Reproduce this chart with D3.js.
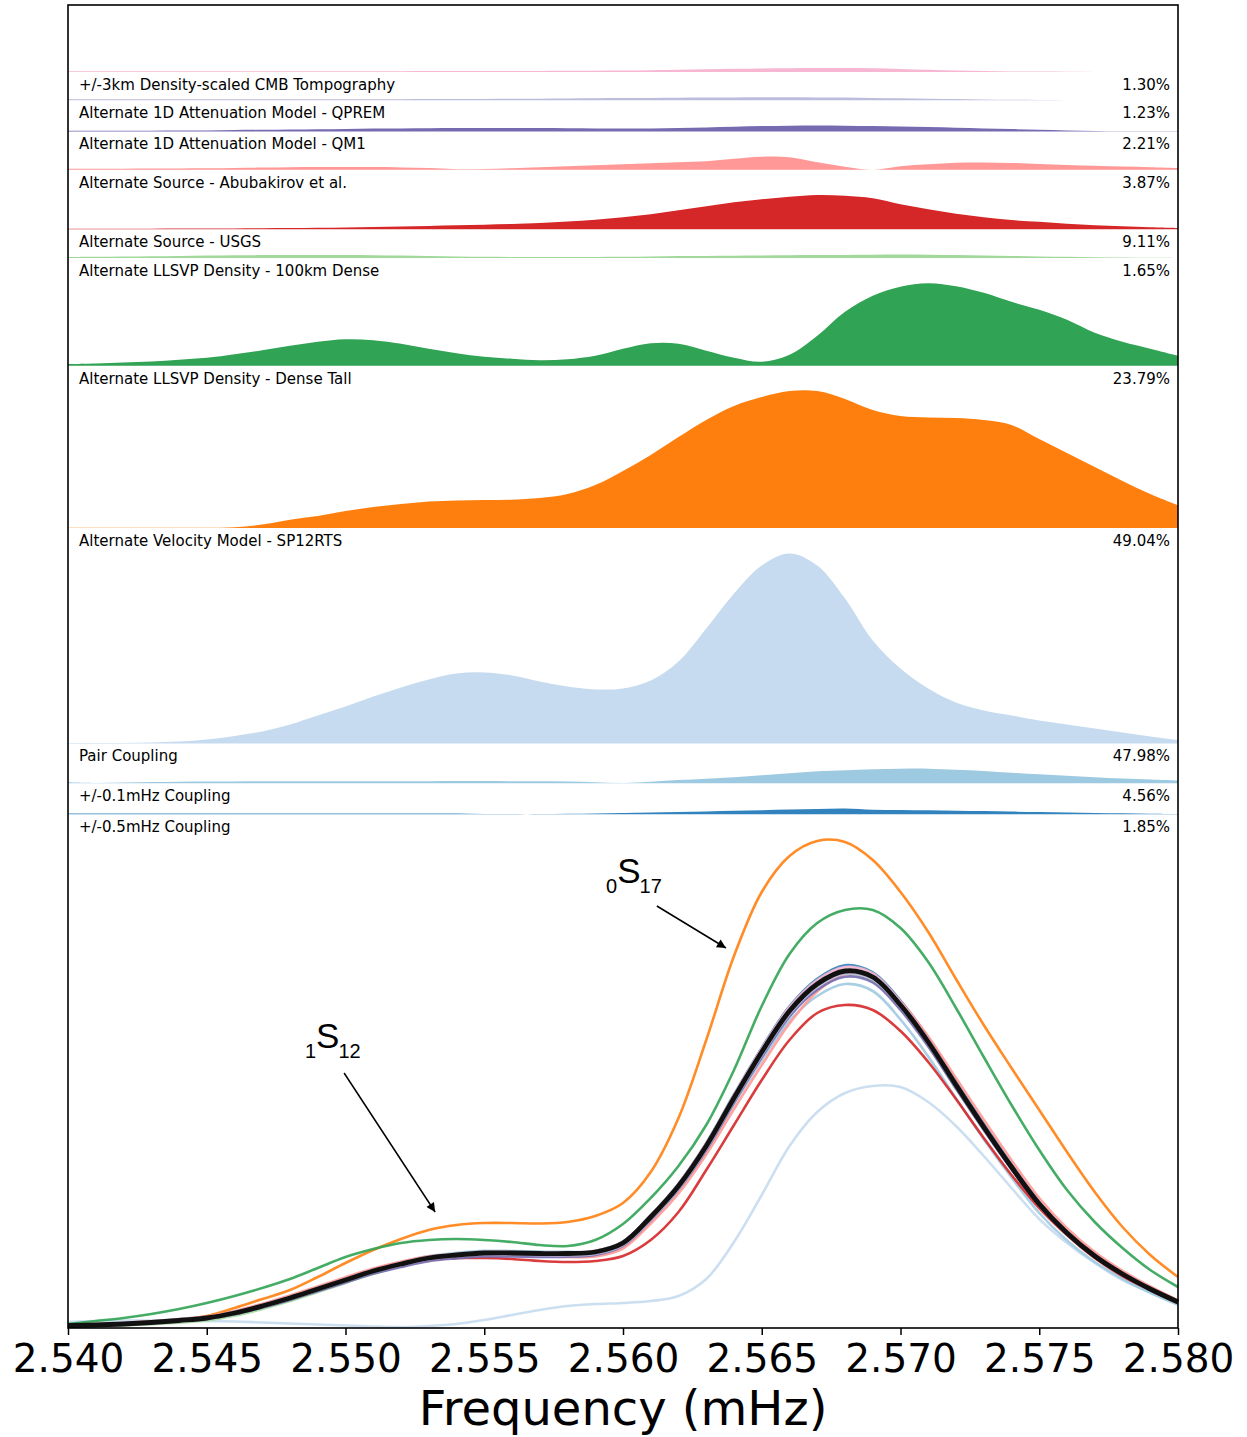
<!DOCTYPE html>
<html>
<head>
<meta charset="utf-8">
<script src="https://cdn.jsdelivr.net/npm/d3@7"></script>
<style>
  body { margin: 0; background: #fff; }
  svg text { font-family: "DejaVu Sans", sans-serif; }
</style>
</head>
<body>
<svg id="chart" width="1247" height="1437"></svg>
<script>
// Frequency grid (mHz)
const frequency = [2.540,2.541,2.542,2.543,2.544,2.545,2.546,2.547,2.548,2.549,2.550,2.551,2.552,2.553,2.554,2.555,2.556,2.557,2.558,2.559,2.560,2.561,2.562,2.563,2.564,2.565,2.566,2.567,2.568,2.569,2.570,2.571,2.572,2.573,2.574,2.575,2.576,2.577,2.578,2.579,2.580];
const tickValues = [2.540,2.545,2.550,2.555,2.560,2.565,2.570,2.575,2.580];

// Amplitude spectra (arbitrary amplitude units)
const reference    = [0.025,0.03,0.04,0.055,0.075,0.10,0.15,0.22,0.30,0.39,0.48,0.57,0.64,0.70,0.73,0.75,0.75,0.745,0.745,0.76,0.85,1.11,1.42,1.82,2.30,2.76,3.17,3.44,3.57,3.51,3.23,2.86,2.43,2.01,1.61,1.24,0.95,0.72,0.54,0.39,0.26];
const specCmbTopo  = [0.033,0.038,0.048,0.063,0.083,0.108,0.158,0.228,0.308,0.398,0.488,0.578,0.648,0.709,0.739,0.76,0.76,0.756,0.757,0.773,0.865,1.128,1.442,1.847,2.332,2.796,3.208,3.479,3.609,3.547,3.26,2.882,2.444,2.019,1.616,1.244,0.952,0.721,0.54,0.39,0.26];
const specQprem    = [0.015,0.02,0.03,0.045,0.065,0.09,0.14,0.21,0.29,0.38,0.47,0.56,0.629,0.688,0.717,0.736,0.735,0.729,0.727,0.74,0.828,1.086,1.394,1.792,2.271,2.73,3.14,3.411,3.543,3.486,3.21,2.844,2.418,2.002,1.605,1.237,0.949,0.72,0.54,0.39,0.26];
const specQm1      = [0.019,0.024,0.034,0.048,0.067,0.09,0.137,0.204,0.281,0.368,0.455,0.542,0.61,0.668,0.696,0.715,0.715,0.711,0.713,0.73,0.821,1.08,1.386,1.78,2.253,2.707,3.113,3.382,3.513,3.456,3.18,2.816,2.393,1.98,1.587,1.224,0.94,0.715,0.538,0.39,0.26];
const specAbubakirov = [0.033,0.039,0.05,0.066,0.088,0.115,0.168,0.241,0.324,0.416,0.507,0.596,0.663,0.716,0.735,0.744,0.735,0.72,0.71,0.715,0.795,1.045,1.345,1.735,2.19,2.63,3.045,3.365,3.54,3.51,3.265,2.915,2.50,2.083,1.678,1.298,0.998,0.76,0.572,0.415,0.277];
const specUsgs     = [0.025,0.03,0.04,0.055,0.075,0.10,0.15,0.22,0.30,0.38,0.47,0.56,0.63,0.68,0.70,0.70,0.69,0.67,0.66,0.67,0.72,0.88,1.16,1.58,2.03,2.48,2.88,3.15,3.23,3.18,2.97,2.66,2.29,1.90,1.53,1.20,0.93,0.70,0.52,0.38,0.25];
const spec100km    = [0.015,0.018,0.025,0.037,0.054,0.076,0.123,0.191,0.27,0.36,0.451,0.543,0.616,0.68,0.714,0.737,0.739,0.735,0.735,0.749,0.837,1.094,1.401,1.799,2.277,2.735,3.143,3.411,3.539,3.477,3.196,2.827,2.40,1.984,1.589,1.224,0.938,0.712,0.535,0.388,0.26];
const specDenseTall = [0.04,0.07,0.10,0.14,0.19,0.25,0.32,0.40,0.49,0.60,0.71,0.79,0.85,0.88,0.89,0.88,0.86,0.83,0.82,0.88,1.04,1.30,1.62,2.03,2.58,3.22,3.74,4.05,4.18,4.18,4.00,3.66,3.20,2.71,2.23,1.78,1.38,1.06,0.80,0.58,0.41];
const specSp12rts  = [0.025,0.03,0.04,0.055,0.08,0.12,0.20,0.29,0.38,0.51,0.65,0.78,0.89,0.98,1.03,1.05,1.05,1.045,1.06,1.12,1.25,1.56,2.10,2.88,3.72,4.36,4.72,4.87,4.86,4.68,4.36,3.96,3.49,3.03,2.60,2.18,1.76,1.36,1.01,0.73,0.51];
const specPair     = [0.06,0.07,0.075,0.075,0.075,0.07,0.065,0.055,0.045,0.035,0.025,0.015,0.01,0.02,0.04,0.08,0.13,0.18,0.22,0.24,0.25,0.27,0.32,0.49,0.86,1.33,1.82,2.16,2.35,2.42,2.41,2.26,2.02,1.72,1.40,1.09,0.85,0.65,0.48,0.36,0.26];
const specCoup01   = [0.035,0.033,0.048,0.067,0.09,0.117,0.168,0.239,0.32,0.41,0.50,0.59,0.66,0.72,0.751,0.771,0.77,0.764,0.761,0.77,0.853,1.095,1.388,1.775,2.24,2.68,3.07,3.32,3.44,3.37,3.085,2.715,2.295,1.887,1.505,1.15,0.875,0.66,0.492,0.352,0.232];
const specCoup05   = [0.017,0.022,0.032,0.047,0.067,0.092,0.142,0.212,0.292,0.382,0.472,0.562,0.632,0.692,0.722,0.746,0.748,0.747,0.75,0.769,0.863,1.128,1.443,1.849,2.335,2.801,3.217,3.493,3.628,3.556,3.273,2.90,2.466,2.042,1.637,1.262,0.968,0.734,0.55,0.396,0.263];

// Absolute difference from the reference spectrum for each perturbation
const diffCmbTopo   = [0.008,0.008,0.008,0.008,0.008,0.008,0.008,0.008,0.008,0.008,0.008,0.008,0.008,0.009,0.009,0.010,0.010,0.011,0.012,0.013,0.015,0.018,0.022,0.027,0.032,0.036,0.038,0.039,0.039,0.037,0.030,0.022,0.014,0.009,0.006,0.004,0.002,0.001,0.0005,0,0];
const diffQprem     = [0.010,0.010,0.010,0.010,0.010,0.010,0.010,0.010,0.010,0.010,0.010,0.010,0.011,0.012,0.013,0.014,0.015,0.016,0.018,0.020,0.022,0.024,0.026,0.028,0.029,0.030,0.030,0.029,0.027,0.024,0.020,0.016,0.012,0.008,0.005,0.003,0.001,0.0005,0,0,0];
const diffQm1       = [0.006,0.006,0.006,0.007,0.008,0.010,0.013,0.016,0.019,0.022,0.025,0.028,0.030,0.032,0.034,0.035,0.035,0.034,0.032,0.030,0.029,0.030,0.034,0.040,0.047,0.053,0.057,0.058,0.057,0.054,0.050,0.044,0.037,0.030,0.023,0.016,0.010,0.005,0.002,0.0005,0];
const diffAbubakirov = [0.008,0.009,0.010,0.011,0.013,0.015,0.018,0.021,0.024,0.026,0.027,0.026,0.023,0.016,0.005,0.006,0.015,0.025,0.035,0.045,0.055,0.065,0.075,0.085,0.11,0.13,0.125,0.075,0.03,0.0,0.035,0.055,0.07,0.073,0.068,0.058,0.048,0.04,0.032,0.025,0.017];
const diffUsgs      = [0.005,0.005,0.005,0.006,0.007,0.008,0.009,0.010,0.012,0.015,0.018,0.022,0.027,0.033,0.040,0.046,0.053,0.063,0.077,0.096,0.12,0.15,0.19,0.23,0.27,0.30,0.325,0.343,0.335,0.31,0.25,0.20,0.155,0.12,0.092,0.075,0.055,0.04,0.03,0.02,0.013];
const diff100km     = [0.010,0.012,0.015,0.018,0.021,0.024,0.027,0.029,0.030,0.030,0.029,0.027,0.024,0.020,0.016,0.013,0.011,0.010,0.010,0.011,0.013,0.016,0.019,0.021,0.023,0.025,0.027,0.029,0.031,0.033,0.034,0.033,0.030,0.026,0.021,0.016,0.012,0.008,0.005,0.002,0.0005];
const diffDenseTall = [0.017,0.023,0.032,0.043,0.06,0.08,0.115,0.155,0.20,0.24,0.265,0.255,0.22,0.17,0.125,0.09,0.07,0.055,0.065,0.10,0.17,0.225,0.22,0.15,0.08,0.04,0.11,0.30,0.54,0.70,0.79,0.825,0.795,0.73,0.64,0.56,0.46,0.33,0.24,0.17,0.10];
const diffSp12rts   = [0.003,0.003,0.003,0.003,0.003,0.003,0.008,0.035,0.083,0.12,0.17,0.21,0.24,0.265,0.275,0.28,0.283,0.30,0.34,0.43,0.57,0.73,0.91,1.08,1.22,1.31,1.37,1.37,1.29,1.18,1.12,1.105,1.10,1.08,1.03,0.89,0.75,0.61,0.47,0.34,0.227];
const diffPair      = [0.002,0.003,0.005,0.01,0.02,0.04,0.075,0.12,0.19,0.28,0.37,0.47,0.56,0.64,0.70,0.71,0.68,0.62,0.57,0.54,0.55,0.63,0.82,1.15,1.50,1.78,1.90,1.78,1.45,1.03,0.75,0.55,0.41,0.33,0.28,0.23,0.19,0.15,0.11,0.07,0.035];
const diffCoup01    = [0.010,0.003,0.008,0.012,0.015,0.017,0.018,0.019,0.020,0.020,0.020,0.020,0.020,0.020,0.021,0.021,0.020,0.019,0.016,0.010,0.003,0.015,0.032,0.045,0.060,0.080,0.100,0.120,0.130,0.140,0.145,0.145,0.135,0.123,0.105,0.090,0.075,0.060,0.048,0.038,0.028];
const diffCoup05    = [0.008,0.008,0.008,0.008,0.008,0.008,0.008,0.008,0.008,0.008,0.008,0.008,0.008,0.008,0.008,0.004,0.002,0.002,0.005,0.009,0.013,0.018,0.023,0.029,0.035,0.041,0.047,0.053,0.058,0.046,0.043,0.040,0.036,0.032,0.027,0.022,0.018,0.014,0.010,0.006,0.003];

const bandNames = [
  "+/-3km Density-scaled CMB Tompography",
  "Alternate 1D Attenuation Model - QPREM",
  "Alternate 1D Attenuation Model - QM1",
  "Alternate Source - Abubakirov et al.",
  "Alternate Source - USGS",
  "Alternate LLSVP Density - 100km Dense",
  "Alternate LLSVP Density - Dense Tall",
  "Alternate Velocity Model - SP12RTS",
  "Pair Coupling",
  "+/-0.1mHz Coupling",
  "+/-0.5mHz Coupling"
];
const bandPercent = [1.30, 1.23, 2.21, 3.87, 9.11, 1.65, 23.79, 49.04, 47.98, 4.56, 1.85];
const bandColors = ["#f7b6d2","#bcbddc","#756bb1","#ff9896","#d62728","#a1d99b","#31a354","#ff7f0e","#c6dbef","#9ecae1","#3182bd"];

const bandDiffs = [diffCmbTopo, diffQprem, diffQm1, diffAbubakirov, diffUsgs, diff100km, diffDenseTall, diffSp12rts, diffPair, diffCoup01, diffCoup05];
const bandSpectra = [specCmbTopo, specQprem, specQm1, specAbubakirov, specUsgs, spec100km, specDenseTall, specSp12rts, specPair, specCoup01, specCoup05];

// Mode labels: radial order, letter, angular order, text anchor and arrow (frequency, amplitude)
const modeLabels = [
  { n: "0", l: "17", at: [2.55939, 4.35], from: [2.56122, 4.22], to: [2.56371, 3.80] },
  { n: "1", l: "12", at: [2.54854, 2.70], from: [2.54995, 2.55], to: [2.55323, 1.16] }
];

// ---------------------------------------------------------------
const plot = { left: 68, right: 1178, top: 5, bottom: 1328 };
const svg = d3.select("#chart");

const x = d3.scaleLinear().domain([2.540, 2.580]).range([plot.left, plot.right]);
const y = d3.scaleLinear().domain([0, 5]).range([plot.bottom, plot.bottom - 500]);
const pxPerUnit = y(0) - y(1);

const bands = bandNames.map((name, i) => ({
  name, color: bandColors[i], pct: bandPercent[i], diff: bandDiffs[i], spec: bandSpectra[i]
}));

// Stack the difference bands top to bottom; each slot is as tall as its largest difference
const firstBase = plot.top + 67, bandGap = 12.8, labelDrop = 12.5;
let prevLabel = null;
bands.forEach((b, i) => {
  const maxH = d3.max(b.diff) * pxPerUnit;
  b.base = i === 0 ? firstBase : prevLabel + bandGap + maxH;
  b.labelY = b.base + labelDrop;
  prevLabel = b.labelY;
});

const curve = d3.curveCatmullRom.alpha(0.5);
const gBands = svg.append("g");
bands.forEach(b => {
  const area = d3.area()
    .x((d, j) => x(frequency[j]))
    .y0(b.base)
    .y1(d => b.base - d * pxPerUnit)
    .curve(curve);
  gBands.append("path").attr("d", area(b.diff)).attr("fill", b.color);
  gBands.append("text")
    .attr("x", plot.left + 11).attr("y", b.labelY + 5.5)
    .attr("font-size", 15).attr("fill", "#000")
    .text(b.name);
  gBands.append("text")
    .attr("x", plot.right - 8).attr("y", b.labelY + 5.5)
    .attr("font-size", 15).attr("fill", "#000")
    .attr("text-anchor", "end")
    .text(b.pct.toFixed(2) + "%");
});

// Spectra, reference drawn last and thicker
const line = d3.line().x((d, j) => x(frequency[j])).y(d => y(d)).curve(curve);
const gLines = svg.append("g");
const drawOrder = [8, 9, 10, 7, 6, 5, 4, 3, 2, 1, 0];
drawOrder.forEach(i => {
  gLines.append("path")
    .attr("d", line(bands[i].spec))
    .attr("fill", "none")
    .attr("stroke", bands[i].color)
    .attr("stroke-opacity", 0.9)
    .attr("stroke-width", 2.6);
});
gLines.append("path")
  .attr("d", line(reference))
  .attr("fill", "none")
  .attr("stroke", "#111")
  .attr("stroke-width", 4.8);

// Mode annotations with arrows
svg.append("defs").append("marker")
  .attr("id", "arrowhead")
  .attr("viewBox", "0 0 10 10")
  .attr("refX", 10).attr("refY", 5)
  .attr("markerWidth", 14).attr("markerHeight", 9)
  .attr("markerUnits", "userSpaceOnUse")
  .attr("orient", "auto")
  .append("path").attr("d", "M0,0 L10,5 L0,10 z").attr("fill", "#000");

modeLabels.forEach(m => {
  const t = svg.append("text")
    .attr("x", x(m.at[0])).attr("y", y(m.at[1]))
    .attr("fill", "#000")
    .style("font-family", "'Liberation Sans', Arial, sans-serif");
  t.append("tspan").attr("font-size", 20).text(m.n);
  t.append("tspan").attr("font-size", 35).attr("dy", -10).text("S");
  t.append("tspan").attr("font-size", 20).attr("dy", 10).attr("dx", -1).text(m.l);
  svg.append("line")
    .attr("x1", x(m.from[0])).attr("y1", y(m.from[1]))
    .attr("x2", x(m.to[0])).attr("y2", y(m.to[1]))
    .attr("stroke", "#000").attr("stroke-width", 1.5)
    .attr("marker-end", "url(#arrowhead)");
});

// Frame
svg.append("rect")
  .attr("x", plot.left).attr("y", plot.top)
  .attr("width", plot.right - plot.left).attr("height", plot.bottom - plot.top)
  .attr("fill", "none").attr("stroke", "#000").attr("stroke-width", 1.6);

// Frequency axis
const axis = d3.axisBottom(x)
  .tickValues(tickValues)
  .tickFormat(d3.format(".3f"))
  .tickSize(7).tickPadding(9);
const gAxis = svg.append("g").attr("transform", `translate(0,${plot.bottom})`).call(axis);
gAxis.select(".domain").remove();
gAxis.selectAll(".tick line").attr("stroke", "#000").attr("stroke-width", 1.5);
gAxis.selectAll(".tick text")
  .attr("fill", "#000")
  .style("font-family", "'DejaVu Sans', sans-serif")
  .style("font-size", "39px");

svg.append("text")
  .attr("x", (plot.left + plot.right) / 2).attr("y", 1425)
  .attr("text-anchor", "middle")
  .attr("font-size", 48).attr("fill", "#000")
  .text("Frequency (mHz)");
</script>
</body>
</html>
